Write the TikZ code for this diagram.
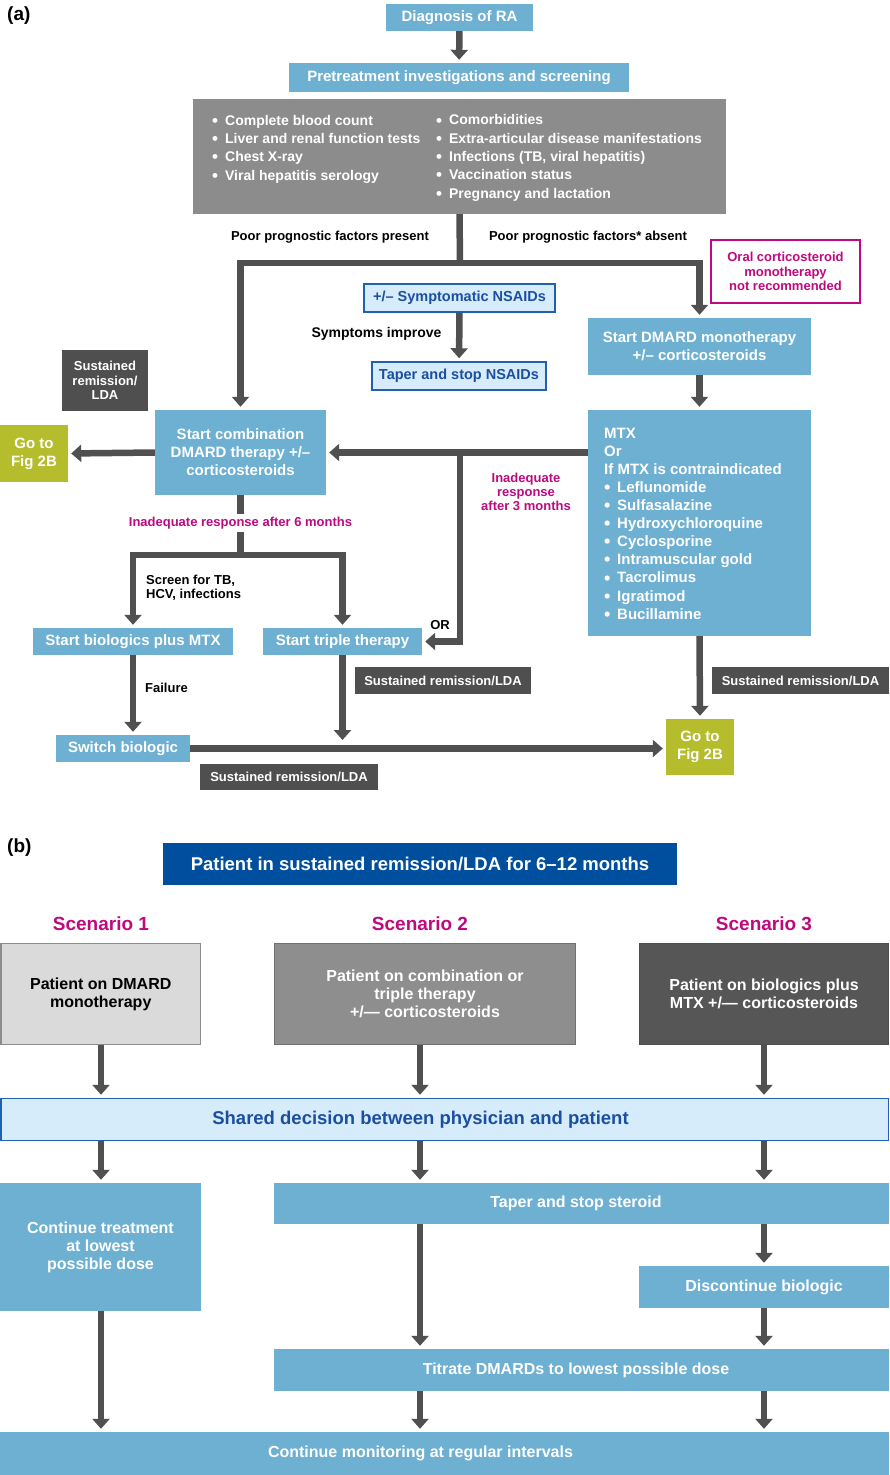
\documentclass[tikz,border=0pt]{standalone}
\usepackage{fontspec}
\setmainfont{Liberation Sans}
\usetikzlibrary{arrows.meta}
\definecolor{boxblue}{HTML}{6EB0D2}
\definecolor{graybox}{HTML}{8C8C8C}
\definecolor{darkbox}{HTML}{4F4F4F}
\definecolor{arrowgray}{HTML}{505050}
\definecolor{gotogreen}{HTML}{B5BD2C}
\definecolor{mag}{HTML}{BE0A7E}
\definecolor{lightfill}{HTML}{D6ECFA}
\definecolor{borderblue}{HTML}{2060B0}
\definecolor{textblue}{HTML}{1C4FA0}
\definecolor{patblue}{HTML}{004F9F}
\definecolor{scaone}{HTML}{DADADA}
\definecolor{scatwo}{HTML}{8E8E8E}
\definecolor{scathree}{HTML}{565656}
\newcommand\fsz[2]{\fontsize{#1}{#2}\selectfont}
\newcommand\gbul{\raisebox{-1.1pt}{\fsz{17}{0}•}\hspace{7pt}}
\newcommand\mbul{\raisebox{-1.1pt}{\fsz{18}{0}•}\hspace{6.7pt}}
\tikzset{
  sz/.style 2 args={minimum width=#1pt, minimum height=#2pt},
  box/.style={rectangle, inner sep=0pt, align=center, font=\bfseries\fsz{15}{18}},
  lb/.style={box, fill=boxblue, text=white},
  dk/.style={box, fill=darkbox, text=white, font=\bfseries\fsz{13}{14.5}},
  gt/.style={box, fill=gotogreen, text=white},
  lf/.style={box, fill=lightfill, draw=borderblue, line width=1.5pt, text=textblue},
  lab/.style={inner sep=0pt, align=center, font=\bfseries\fsz{13}{14}},
  mlab/.style={lab, text=mag},
  lst/.style={anchor=west, inner sep=0pt, align=left, text=white},
  ln/.style={draw=arrowgray, line width=6.5pt},
  arr/.style={ln, -{Triangle[length=10pt,width=17pt]}, shorten >=3pt},
  bb/.style={box, font=\bfseries\fsz{16}{18}},
}
\begin{document}
\begin{tikzpicture}[x=1pt,y=-1pt]
\useasboundingbox (0,0) rectangle (889,1475);
\fill[white] (0,0) rectangle (889,1475);

% ---------------- (a) ----------------
\node[anchor=west, inner sep=0pt, font=\bfseries\fsz{19}{22}] (alab) at (7,16) {(a)};

\node[lb, sz={147}{27}] (diag) at (459.5,17.5) {Diagnosis of RA};
\node[lb, sz={340}{29}] (pre) at (459,77.5) {Pretreatment investigations and screening};
\node[box, fill=graybox, sz={533}{115}] (gray) at (459.5,156.5) {};
\node[lst, font=\bfseries\fsz{14}{18.3}] (grayl) at (212,149) {\gbul Complete blood count\\\gbul Liver and renal function tests\\\gbul Chest X-ray\\\gbul Viral hepatitis serology};
\node[lst, font=\bfseries\fsz{14}{18.3}] (grayr) at (436,158) {\gbul Comorbidities\\\gbul Extra-articular disease manifestations\\\gbul Infections (TB, viral hepatitis)\\\gbul Vaccination status\\\gbul Pregnancy and lactation};

\node[lab] (lpres) at (330,237) {Poor prognostic factors present};
\node[lab] (labs) at (588,237) {Poor prognostic factors* absent};

\node[box, draw=mag, line width=1.5pt, text=mag, font=\bfseries\fsz{13}{14.5}, sz={149}{63}] (oral) at (785.5,271.5) {Oral corticosteroid\\monotherapy\\not recommended};

\node[lf, font=\bfseries\fsz{14.5}{17}, sz={191}{28}] (nsaid) at (459.5,298) {+/– Symptomatic NSAIDs};
\node[lab, font=\bfseries\fsz{14}{16}] (symp) at (376.5,334) {Symptoms improve};
\node[lf, font=\bfseries\fsz{14.5}{17}, sz={174}{28}] (taper) at (459,376) {Taper and stop NSAIDs};

\node[lb, sz={223}{57}] (dmard) at (699.5,346.5) {Start DMARD monotherapy\\+/– corticosteroids};
\node[lb, sz={223}{226}] (mtx) at (699.5,523) {};
\node[lst, font=\bfseries\fsz{15}{18.1}] (mtxt) at (604,524) {MTX\\Or\\If MTX is contraindicated\\\mbul Leflunomide\\\mbul Sulfasalazine\\\mbul Hydroxychloroquine\\\mbul Cyclosporine\\\mbul Intramuscular gold\\\mbul Tacrolimus\\\mbul Igratimod\\\mbul Bucillamine};

\node[dk, sz={86}{61}] (sr1) at (105,380.5) {Sustained\\remission/\\LDA};
\node[lb, sz={171}{85}] (combo) at (240.5,452.5) {Start combination\\DMARD therapy +/–\\corticosteroids};
\node[gt, sz={68}{57}] (goto1) at (34,453.5) {Go to\\Fig 2B};

\node[mlab] (l3m) at (526,492) {Inadequate\\response\\after 3 months};
\node[lab] (lor) at (440,625) {OR};

\node[lb, sz={200}{27}] (bio) at (133,641.5) {Start biologics plus MTX};
\node[lb, sz={159}{27}] (triple) at (342.5,641.5) {Start triple therapy};
\node[lab, anchor=west, align=left] (lscr) at (146,588) {Screen for TB,\\HCV, infections};
\node[lab, anchor=west] (lfail) at (145,688) {Failure};

\node[lb, sz={134}{27}] (switch) at (123,748.5) {Switch biologic};
\node[dk, sz={176}{27}] (sr2) at (443,680.5) {Sustained remission/LDA};
\node[gt, sz={68}{56}] (goto2) at (700,747) {Go to\\Fig 2B};
\node[dk, sz={177}{27}] (sr3) at (800.5,680.5) {Sustained remission/LDA};
\node[dk, sz={178}{26}] (sr4) at (289,777) {Sustained remission/LDA};

% connectors (a)
\coordinate (j1) at (460,263);
\coordinate (j2) at (460,452.5);
\coordinate (j3) at (240.5,555);
\coordinate (t3) at (342.5,743);
\draw[arr] (diag) -- (pre);
\draw[ln] (gray.south) -- (j1);
\draw[arr] (j1) -| (combo.north);
\draw[arr] (j1) -| (dmard.north);
\draw[arr] (nsaid) -- (taper);
\draw[arr] (dmard) -- (mtx);
\draw[arr] (combo.east -| mtx.west) -- (combo.east);
\draw[arr] (combo.west) -- (goto1.east);
\draw[arr] (j2) |- (triple.east);
\draw[ln] (combo.south) -- (j3);
\draw[arr] (j3) -| (bio.north);
\draw[arr] (j3) -| (triple.north);
\draw[arr] (bio.south) -- (bio.south |- switch.north);
\draw[arr] (triple.south) -- (t3);
\draw[arr] (switch.east) -- (switch.east -| goto2.west);
\draw[arr] (mtx.south) -- (goto2.north);
\node[mlab, fill=white, inner ysep=3pt, inner xsep=2pt] (l6m) at (240.5,523) {Inadequate response after 6 months};

% ---------------- (b) ----------------
\node[anchor=west, inner sep=0pt, font=\bfseries\fsz{19}{22}] (blab) at (7,848) {(b)};
\node[box, fill=patblue, text=white, font=\bfseries\fsz{18.5}{22}, sz={514}{42}] (pat) at (420,864) {Patient in sustained remission/LDA for 6–12 months};

\node[lab, text=mag, font=\bfseries\fsz{19}{22}] (sc1) at (101,924) {Scenario 1};
\node[lab, text=mag, font=\bfseries\fsz{19}{22}] (sc2) at (420,924) {Scenario 2};
\node[lab, text=mag, font=\bfseries\fsz{19}{22}] (sc3) at (764,924) {Scenario 3};

\node[bb, fill=scaone, draw=graybox, line width=1.5pt, text=black, sz={199.5}{101}] (s1) at (100.75,994) {Patient on DMARD\\monotherapy};
\node[bb, fill=scatwo, draw=graybox!80!black, line width=1.5pt, text=white, sz={301}{101}] (s2) at (425,994) {Patient on combination or\\triple therapy\\+/— corticosteroids};
\node[bb, fill=scathree, draw=darkbox, line width=1.5pt, text=white, sz={249}{101}] (s3) at (764,994) {Patient on biologics plus\\MTX +/— corticosteroids};

\node[box, fill=lightfill, draw=borderblue, line width=1.5pt, text=textblue, font=\bfseries\fsz{18.5}{22}, sz={887.5}{42}] (shared) at (444.5,1119.5) {\hbox{\raisebox{-2pt}{Shared decision between physician and patient}\kern48pt}};

\node[lb, font=\bfseries\fsz{16}{18}, sz={201}{128}] (cont) at (100.5,1247) {Continue treatment\\at lowest\\possible dose};
\node[lb, font=\bfseries\fsz{16}{18}, sz={615}{41}] (tss) at (581.5,1203.5) {\hbox{\raisebox{-1.5pt}{Taper and stop steroid}\kern11pt}};
\node[lb, font=\bfseries\fsz{16}{18}, sz={250}{42}] (disc) at (764,1287) {Discontinue biologic};
\node[lb, font=\bfseries\fsz{16}{18}, sz={615}{42}] (titr) at (581.5,1370) {\hbox{\raisebox{-1.5pt}{Titrate DMARDs to lowest possible dose}\kern11pt}};
\node[lb, font=\bfseries\fsz{16}{18}, sz={889}{43}] (mon) at (444.5,1453.5) {\hbox{\raisebox{-1.5pt}{Continue monitoring at regular intervals}\kern48pt}};

% connectors (b)
\coordinate (c1) at (101,0);
\coordinate (c2) at (420,0);
\coordinate (c3) at (764,0);
\draw[arr] (s1.south -| c1) -- (shared.north -| c1);
\draw[arr] (s2.south -| c2) -- (shared.north -| c2);
\draw[arr] (s3.south -| c3) -- (shared.north -| c3);
\draw[arr] (shared.south -| c1) -- (cont.north -| c1);
\draw[arr] (shared.south -| c2) -- (tss.north -| c2);
\draw[arr] (shared.south -| c3) -- (tss.north -| c3);
\draw[arr] (tss.south -| c2) -- (titr.north -| c2);
\draw[arr] (tss.south -| c3) -- (disc.north);
\draw[arr] (disc.south) -- (titr.north -| c3);
\draw[arr] (cont.south -| c1) -- (mon.north -| c1);
\draw[arr] (titr.south -| c2) -- (mon.north -| c2);
\draw[arr] (titr.south -| c3) -- (mon.north -| c3);
\end{tikzpicture}
\end{document}
